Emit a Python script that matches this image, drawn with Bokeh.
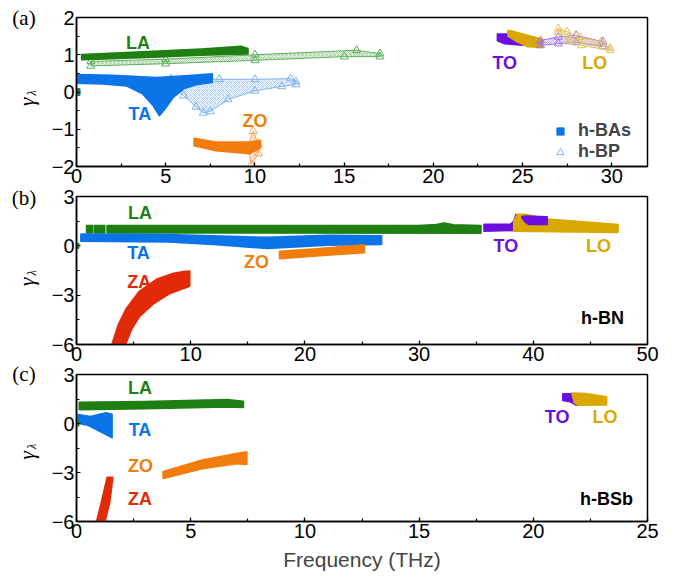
from bokeh.plotting import figure
from bokeh.layouts import column, row
from bokeh.models import Label, Legend, LegendItem, SingleIntervalTicker, Range1d
from bokeh.embed import file_html
from bokeh.resources import INLINE

# ---------------- colours ----------------
C_LA = "#1f7f12"; C_TA = "#0b74e8"; C_ZO = "#f27c0c"; C_ZA = "#e02a08"
C_TO = "#6a0fe0"; C_LO = "#d8a800"
L_LA = "#5fb05a"; L_TA = "#7fb4f2"; L_ZO = "#f5a460"; L_TO = "#a070e8"; L_LO = "#e2c25a"

# ---------------- data: frequency (THz) / gamma, band top & bottom edges ----------------
# (a) h-BAs
bas_la_top_f = [0.3, 4.0, 7.0, 9.2, 9.6];  bas_la_top_g = [1.00, 1.08, 1.15, 1.22, 1.16]
bas_la_bot_f = [0.3, 4.0, 7.0, 9.6];       bas_la_bot_g = [0.87, 0.93, 0.99, 1.03]
bas_ta_top_f = [0.0, 2.0, 4.5, 6.5, 7.6];  bas_ta_top_g = [0.46, 0.44, 0.38, 0.44, 0.48]
bas_ta_bot_f = [0.0, 1.5, 2.8, 3.7, 4.3, 4.65, 5.0, 5.4, 6.0, 6.7, 7.6]
bas_ta_bot_g = [0.24, 0.22, 0.17, -0.04, -0.36, -0.63, -0.42, -0.15, 0.09, 0.20, 0.26]
bas_zo_top_f = [6.6, 7.8, 9.7, 10.3];      bas_zo_top_g = [-1.25, -1.35, -1.35, -1.30]
bas_zo_bot_f = [6.6, 7.8, 9.7, 10.3];      bas_zo_bot_g = [-1.44, -1.57, -1.65, -1.50]
bas_to_top_f = [23.6, 24.2, 24.5, 25.0];   bas_to_top_g = [1.55, 1.55, 1.45, 1.38]
bas_to_bot_f = [23.6, 24.0, 25.0];         bas_to_bot_g = [1.38, 1.30, 1.26]
bas_lo_top_f = [24.2, 24.5, 26.1];         bas_lo_top_g = [1.65, 1.62, 1.41]
bas_lo_bot_f = [24.2, 24.7, 25.3, 26.1];   bas_lo_bot_g = [1.50, 1.35, 1.22, 1.20]
# (a) h-BP
bp_la_top_f = [0.8, 5.0, 10.0, 15.7, 17.0]; bp_la_top_g = [0.82, 0.88, 1.00, 1.12, 1.03]
bp_la_bot_f = [0.8, 5.0, 10.0, 15.0, 17.0]; bp_la_bot_g = [0.70, 0.76, 0.85, 0.95, 0.95]
bp_ta_top_f = [5.3, 8.0, 10.0, 12.0, 12.3]; bp_ta_top_g = [0.36, 0.34, 0.34, 0.36, 0.28]
bp_ta_bot_f = [5.3, 6.0, 6.7, 7.1, 7.5, 8.5, 10.0, 11.5, 12.3]
bp_ta_bot_g = [0.20, -0.10, -0.40, -0.56, -0.52, -0.20, 0.03, 0.15, 0.20]
bp_zo_top_f = [9.6, 9.9, 10.2];             bp_zo_top_g = [-1.45, -1.05, -1.40]
bp_zo_bot_f = [9.6, 9.8, 10.2];             bp_zo_bot_g = [-1.50, -1.95, -1.65]
bp_to_top_f = [26.0, 27.0, 28.0, 29.5];     bp_to_top_g = [1.38, 1.48, 1.52, 1.35]
bp_to_bot_f = [26.0, 27.0, 28.0, 29.5];     bp_to_bot_g = [1.25, 1.30, 1.33, 1.22]
bp_lo_top_f = [27.0, 27.5, 28.2, 29.4, 29.9]; bp_lo_top_g = [1.70, 1.62, 1.47, 1.35, 1.18]
bp_lo_bot_f = [27.0, 27.6, 28.3, 29.9];     bp_lo_bot_g = [1.60, 1.35, 1.25, 1.12]

# (b) h-BN
bn_la1_f = [0.9, 1.4];  bn_la2_f = [1.6, 2.45]
bn_la_top_f = [2.7, 30.0, 31.5, 32.2, 33.0, 35.4]; bn_la_top_g = [1.22, 1.22, 1.28, 1.38, 1.27, 1.22]
bn_la_bot_f = [2.7, 35.4];                         bn_la_bot_g = [0.80, 0.78]
bn_la_piece_top_g = [1.22, 1.22]; bn_la_piece_bot_g = [0.80, 0.80]
bn_ta_top_f = [0.4, 8.0, 16.7, 22.0, 26.7];        bn_ta_top_g = [0.70, 0.68, 0.50, 0.63, 0.60]
bn_ta_bot_f = [0.4, 8.0, 12.0, 16.7, 22.0, 26.7];  bn_ta_bot_g = [0.30, 0.25, 0.10, -0.15, 0.05, 0.10]
bn_zo_top_f = [17.8, 21.0, 25.2];                  bn_zo_top_g = [-0.35, -0.20, 0.05]
bn_zo_bot_f = [17.8, 21.0, 25.2];                  bn_zo_bot_g = [-0.77, -0.60, -0.40]
bn_za_top_f = [3.06, 3.68, 4.38, 5.5, 7.0, 8.5, 9.4, 9.9]
bn_za_top_g = [-6.12, -4.79, -3.81, -2.78, -2.05, -1.68, -1.58, -1.55]
bn_za_bot_f = [4.2, 4.8, 5.5, 6.74, 8.14, 9.9]
bn_za_bot_g = [-6.12, -5.09, -4.30, -3.51, -2.90, -2.45]
bn_to_top_f = [35.7, 38.0, 38.3, 38.5];            bn_to_top_g = [1.30, 1.30, 1.50, 1.90]
bn_to_bot_f = [35.7, 38.5];                        bn_to_bot_g = [0.90, 0.95]
bn_lo_top_f = [38.3, 38.6, 39.3, 41.3, 47.4];      bn_lo_top_g = [1.50, 1.90, 1.90, 1.62, 1.28]
bn_lo_bot_f = [38.3, 47.4];                        bn_lo_bot_g = [0.90, 0.82]
bn_to2_top_f = [39.0, 39.3, 41.2];                 bn_to2_top_g = [1.75, 1.80, 1.75]
bn_to2_bot_f = [39.3, 39.6, 41.2];                 bn_to2_bot_g = [1.45, 1.32, 1.32]

# (c) h-BSb
bsb_la_top_f = [0.13, 3.0, 6.6, 7.3];   bsb_la_top_g = [1.28, 1.33, 1.45, 1.35]
bsb_la_bot_f = [0.13, 3.0, 6.6, 7.3];   bsb_la_bot_g = [0.85, 0.92, 1.02, 1.00]
bsb_ta_top_f = [0.0, 0.6, 1.3, 1.55];   bsb_ta_top_g = [0.55, 0.42, 0.65, 0.55]
bsb_ta_bot_f = [0.0, 0.5, 1.0, 1.55];   bsb_ta_bot_g = [0.05, -0.10, -0.45, -0.85]
bsb_zo_top_f = [3.8, 5.5, 7.0, 7.45];   bsb_zo_top_g = [-2.95, -2.25, -1.85, -1.75]
bsb_zo_bot_f = [3.8, 5.5, 7.0, 7.45];   bsb_zo_bot_g = [-3.35, -2.75, -2.45, -2.50]
bsb_za_left_f = [0.87, 1.10, 1.35];     bsb_za_left_g = [-6.1, -4.8, -3.3]
bsb_za_right_f = [1.22, 1.45, 1.58];    bsb_za_right_g = [-6.1, -4.8, -3.3]
bsb_to_top_f = [21.3, 21.75];           bsb_to_top_g = [1.80, 1.80]
bsb_to_bot_f = [21.3, 21.6, 21.9];      bsb_to_bot_g = [1.42, 1.35, 1.13]
bsb_lo_top_f = [21.7, 22.3, 23.2];      bsb_lo_top_g = [1.85, 1.82, 1.62]
bsb_lo_bot_f = [21.8, 21.95, 23.2];     bsb_lo_bot_g = [1.30, 1.13, 1.15]

gamma0_f = [0.0]; gamma0_g = [0.0]

panel_tags = ["(a)", "(b)", "(c)"]

FONT = "Liberation Sans"
LW = 40            # width of the left strip holding panel tags / y labels
W = 627            # width of each panel figure
H1, H2, H3 = 189, 178, 207
HT = H1 + H2 + H3


def make_fig(h, xr, yr, xint, yint, top, bottom):
    p = figure(width=W, height=h, x_range=Range1d(*xr), y_range=Range1d(*yr),
               output_backend="svg", toolbar_location=None,
               min_border_left=36, min_border_right=W - 36 - 571,
               min_border_top=top, min_border_bottom=bottom)
    p.xgrid.visible = False
    p.ygrid.visible = False
    p.outline_line_color = "black"
    p.outline_line_width = 1.5
    p.outline_line_alpha = 1
    p.xaxis.ticker = SingleIntervalTicker(interval=xint, num_minor_ticks=2)
    p.yaxis.ticker = SingleIntervalTicker(interval=yint, num_minor_ticks=2)
    for ax in (p.xaxis, p.yaxis):
        ax.major_tick_in = 4
        ax.major_tick_out = 0
        ax.minor_tick_in = 3
        ax.minor_tick_out = 0
        ax.axis_line_width = 1.5
        ax.major_tick_line_width = 1.2
        ax.minor_tick_line_width = 1.2
        ax.major_label_text_font = FONT
        ax.major_label_text_font_size = "20px"
        ax.major_label_text_color = "black"
        ax.major_label_standoff = 2
    return p


def band(p, tf, tg, bf, bg, color, light=False):
    xs = list(tf) + list(bf)[::-1]
    ys = list(tg) + list(bg)[::-1]
    if light:
        p.patch(xs, ys, fill_color=color, fill_alpha=0.2, line_color=color, line_width=1,
                hatch_pattern="diagonal_cross", hatch_color=color, hatch_scale=4,
                hatch_weight=0.6, hatch_alpha=0.75)
        return p.scatter(xs, ys, marker="triangle", size=8, fill_color="white",
                         fill_alpha=0.0, line_color=color, line_width=1)
    return p.patch(xs, ys, fill_color=color, line_color=color, line_width=2,
                   line_join="round")


def txt(p, x, y, s, color, size="18px"):
    p.add_layout(Label(x=x, y=y, text=s, text_color=color, text_font=FONT,
                       text_font_size=size, text_font_style="bold",
                       text_align="center", text_baseline="middle"))


# ---------------- panel (a) ----------------
pa = make_fig(H1, (0, 32), (-2, 2), 5, 1, 17, 23)
band(pa, bp_la_top_f, bp_la_top_g, bp_la_bot_f, bp_la_bot_g, L_LA, True)
r_tri = band(pa, bp_ta_top_f, bp_ta_top_g, bp_ta_bot_f, bp_ta_bot_g, L_TA, True)
band(pa, bas_la_top_f, bas_la_top_g, bas_la_bot_f, bas_la_bot_g, C_LA)
band(pa, bas_ta_top_f, bas_ta_top_g, bas_ta_bot_f, bas_ta_bot_g, C_TA)
band(pa, bp_zo_top_f, bp_zo_top_g, bp_zo_bot_f, bp_zo_bot_g, L_ZO, True)
band(pa, bas_zo_top_f, bas_zo_top_g, bas_zo_bot_f, bas_zo_bot_g, C_ZO)
band(pa, bas_to_top_f, bas_to_top_g, bas_to_bot_f, bas_to_bot_g, C_TO)
band(pa, bas_lo_top_f, bas_lo_top_g, bas_lo_bot_f, bas_lo_bot_g, C_LO)
band(pa, bp_to_top_f, bp_to_top_g, bp_to_bot_f, bp_to_bot_g, L_TO, True)
band(pa, bp_lo_top_f, bp_lo_top_g, bp_lo_bot_f, bp_lo_bot_g, L_LO, True)
r_sq = pa.scatter(gamma0_f, gamma0_g, marker="square", size=7, color=C_TA)
pa.scatter(gamma0_f, gamma0_g, marker="square", size=5, color=C_LA)
txt(pa, 3.44, 1.32, "LA", C_LA)
txt(pa, 3.55, -0.6, "TA", C_TA)
txt(pa, 10.0, -0.78, "ZO", C_ZO)
txt(pa, 24.0, 0.78, "TO", C_TO)
txt(pa, 29.05, 0.78, "LO", C_LO)
leg = Legend(items=[LegendItem(label="h-BAs", renderers=[r_sq], index=0),
                    LegendItem(label="h-BP", renderers=[r_tri], index=0)],
             location=(474, 4), orientation="vertical", background_fill_alpha=0,
             border_line_alpha=0, label_text_font=FONT, label_text_font_style="bold",
             label_text_font_size="18px", glyph_width=20, glyph_height=18, label_height=18,
             spacing=0, padding=0, margin=0, label_standoff=8)
pa.add_layout(leg)

# ---------------- panel (b) ----------------
pb = make_fig(H2, (0, 50), (-6, 3), 10, 3, 7, 23)
band(pb, bn_la1_f, bn_la_piece_top_g, bn_la1_f, bn_la_piece_bot_g, C_LA)
band(pb, bn_la2_f, bn_la_piece_top_g, bn_la2_f, bn_la_piece_bot_g, C_LA)
band(pb, bn_la_top_f, bn_la_top_g, bn_la_bot_f, bn_la_bot_g, C_LA)
band(pb, bn_ta_top_f, bn_ta_top_g, bn_ta_bot_f, bn_ta_bot_g, C_TA)
band(pb, bn_zo_top_f, bn_zo_top_g, bn_zo_bot_f, bn_zo_bot_g, C_ZO)
band(pb, bn_za_top_f, bn_za_top_g, bn_za_bot_f, bn_za_bot_g, C_ZA)
band(pb, bn_to_top_f, bn_to_top_g, bn_to_bot_f, bn_to_bot_g, C_TO)
band(pb, bn_lo_top_f, bn_lo_top_g, bn_lo_bot_f, bn_lo_bot_g, C_LO)
band(pb, bn_to2_top_f, bn_to2_top_g, bn_to2_bot_f, bn_to2_bot_g, C_TO)
pb.scatter(gamma0_f, gamma0_g, marker="square", size=5, color=C_LA)
txt(pb, 5.56, 2.0, "LA", C_LA)
txt(pb, 5.43, -0.44, "TA", C_TA)
txt(pb, 5.5, -2.17, "ZA", C_ZA)
txt(pb, 15.76, -1.01, "ZO", C_ZO)
txt(pb, 37.6, 0.0, "TO", C_TO)
txt(pb, 45.7, 0.0, "LO", C_LO)
txt(pb, 46.06, -4.36, "h-BN", "black")

# ---------------- panel (c) ----------------
pc = make_fig(H3, (0, 25), (-6, 3), 5, 3, 7, 53)
band(pc, bsb_la_top_f, bsb_la_top_g, bsb_la_bot_f, bsb_la_bot_g, C_LA)
band(pc, bsb_ta_top_f, bsb_ta_top_g, bsb_ta_bot_f, bsb_ta_bot_g, C_TA)
band(pc, bsb_zo_top_f, bsb_zo_top_g, bsb_zo_bot_f, bsb_zo_bot_g, C_ZO)
band(pc, bsb_za_left_f, bsb_za_left_g, bsb_za_right_f, bsb_za_right_g, C_ZA)
band(pc, bsb_to_top_f, bsb_to_top_g, bsb_to_bot_f, bsb_to_bot_g, C_TO)
band(pc, bsb_lo_top_f, bsb_lo_top_g, bsb_lo_bot_f, bsb_lo_bot_g, C_LO)
pc.scatter(gamma0_f, gamma0_g, marker="square", size=5, color=C_LA)
txt(pc, 2.78, 2.18, "LA", C_LA)
txt(pc, 2.78, -0.41, "TA", C_TA)
txt(pc, 2.8, -2.62, "ZO", C_ZO)
txt(pc, 2.78, -4.64, "ZA", C_ZA)
txt(pc, 21.04, 0.37, "TO", C_TO)
txt(pc, 23.14, 0.37, "LO", C_LO)
txt(pc, 23.2, -4.61, "h-BSb", "black")
pc.xaxis.axis_label = "Frequency (THz)"
pc.xaxis.axis_label_text_font = FONT
pc.xaxis.axis_label_text_font_style = "normal"
pc.xaxis.axis_label_text_font_size = "21px"
pc.xaxis.axis_label_standoff = 7

# ---------------- left strip: panel tags and y labels (pixel coordinates) ----------------
ps = figure(width=LW, height=HT, x_range=Range1d(0, LW), y_range=Range1d(0, HT),
            output_backend="svg", toolbar_location=None, min_border=0,
            x_axis_location=None, y_axis_location=None)
ps.xgrid.visible = False
ps.ygrid.visible = False
ps.outline_line_color = None
tag_y = [17.5, 197.5, 373.5]
gam_y = [101.5, 281.5, 455.0]
for tag, ty, gy in zip(panel_tags, tag_y, gam_y):
    ps.add_layout(Label(x=23.5, y=HT - ty, text=tag, text_font="Liberation Serif",
                        text_font_size="21px", text_align="center",
                        text_baseline="middle", text_color="black"))
    ps.add_layout(Label(x=25.5, y=HT - gy, text="γ", angle=1.5708,
                        text_font="Liberation Serif", text_font_style="italic",
                        text_font_size="22px", text_align="center",
                        text_baseline="middle", text_color="black"))
    ps.add_layout(Label(x=31.0, y=HT - gy + 9, text="λ", angle=1.5708,
                        text_font="Liberation Serif", text_font_style="italic",
                        text_font_size="12px", text_align="center",
                        text_baseline="middle", text_color="black"))

layout = row(ps, column(pa, pb, pc, spacing=0), spacing=0)
open("out.html", "w").write(file_html(layout, INLINE))
